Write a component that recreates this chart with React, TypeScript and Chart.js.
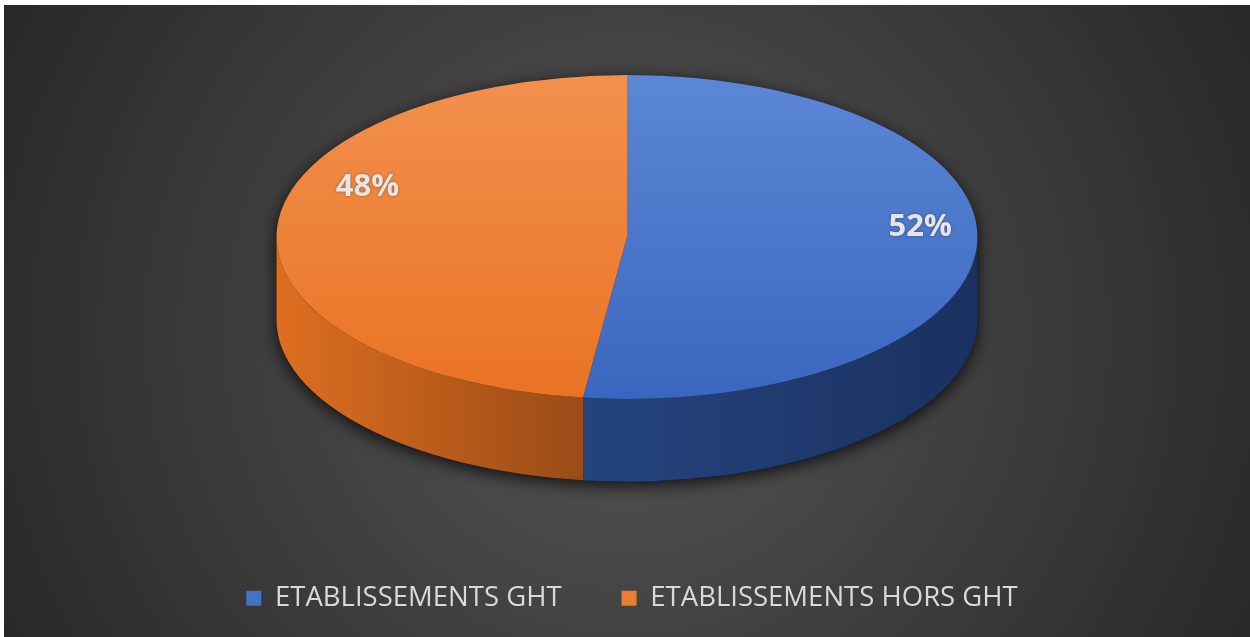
import React, { useEffect, useRef } from "react";
import { Chart, registerables } from "chart.js";
Chart.register(...registerables);

const categories = ["ETABLISSEMENTS GHT", "ETABLISSEMENTS HORS GHT"];
const values = [52, 48];

const topLight = ["#5C87D5", "#F2904D"];
const topDark = ["#3A66BF", "#EA7324"];
const sideLeft = ["#25447F", "#DE6E20"];
const sideRight = ["#1A3160", "#9A4B16"];
const legendColors = ["#4472C4", "#ED7D31"];

function geom(chart: any) {
  const W = chart.width;
  const H = chart.height;
  const rx = W * 0.2813;
  const ry = rx * 0.462;
  const depth = rx * 0.236;
  const cx = W / 2;
  const cy = H * 0.367;
  return { cx, cy, rx, ry, depth };
}

const pie3d = {
  id: "pie3d",
  beforeDraw(chart: any) {
    const { ctx, width: W, height: H } = chart;
    ctx.save();
    const g = ctx.createRadialGradient(W / 2, H * 0.52, 0, W / 2, H * 0.52, W * 0.62);
    g.addColorStop(0, "#565656");
    g.addColorStop(1, "#232323");
    ctx.fillStyle = g;
    ctx.fillRect(0, 0, W, H);
    ctx.restore();
  },
  beforeDatasetsDraw(chart: any) {
    const { ctx } = chart;
    const { cx, cy, rx, ry, depth } = geom(chart);
    const arcs = chart.getDatasetMeta(0).data;
    // soft shadow beneath the disc
    ctx.save();
    ctx.shadowColor = "rgba(0,0,0,0.8)";
    ctx.shadowBlur = 16;
    ctx.shadowOffsetY = 4;
    ctx.fillStyle = "#151515";
    ctx.beginPath();
    ctx.ellipse(cx, cy + depth, rx, ry, 0, 0, Math.PI, false);
    ctx.lineTo(cx - rx, cy);
    ctx.ellipse(cx, cy, rx, ry, 0, Math.PI, Math.PI * 2, false);
    ctx.closePath();
    ctx.fill();
    ctx.restore();
    // side walls
    arcs.forEach((a: any, i: number) => {
      const s = a.startAngle;
      const e = a.endAngle;
      [-2 * Math.PI, 0, 2 * Math.PI].forEach((k) => {
        const a1 = Math.max(s, k);
        const a2 = Math.min(e, k + Math.PI);
        if (a2 <= a1) return;
        const b1 = a1 - k;
        const b2 = a2 - k;
        const xl = cx + rx * Math.cos(b2);
        const xr = cx + rx * Math.cos(b1);
        const g = ctx.createLinearGradient(xl, 0, xr, 0);
        g.addColorStop(0, sideLeft[i]);
        g.addColorStop(1, sideRight[i]);
        ctx.save();
        ctx.fillStyle = g;
        ctx.beginPath();
        ctx.ellipse(cx, cy, rx, ry, 0, b1, b2, false);
        ctx.ellipse(cx, cy + depth, rx, ry, 0, b2, b1, true);
        ctx.closePath();
        ctx.fill();
        ctx.restore();
      });
    });
    // top face: let the library draw the arcs through a tilt transform
    const a0 = arcs[0];
    const R = a0.outerRadius;
    ctx.save();
    ctx.translate(cx, cy);
    ctx.scale(rx / R, ry / R);
    ctx.translate(-a0.x, -a0.y);
  },
  afterDatasetsDraw(chart: any) {
    const { ctx } = chart;
    ctx.restore();
    const { cx, cy, rx, ry } = geom(chart);
    const arcs = chart.getDatasetMeta(0).data;
    const total = values.reduce((p, v) => p + v, 0);
    ctx.save();
    ctx.font = "bold 31px 'Open Sans'";
    ctx.fillStyle = "#E6E6E6";
    ctx.textAlign = "center";
    ctx.textBaseline = "middle";
    ctx.shadowColor = "rgba(0,0,0,0.35)";
    ctx.shadowBlur = 3;
    arcs.forEach((a: any, i: number) => {
      const mid = (a.startAngle + a.endAngle) / 2;
      const c = Math.cos(mid);
      const x = cx + rx * 0.79 * c + rx * 0.048;
      const y = cy + ry * 0.79 * Math.sin(mid) - ry * (0.185 - 0.074 * c);
      ctx.fillText(Math.round((values[i] / total) * 100) + "%", x, y);
    });
    ctx.restore();
  },
};

export default function App() {
  const ref = useRef<HTMLCanvasElement | null>(null);
  useEffect(() => {
    if (!ref.current) return;
    const chart = new Chart(ref.current, {
      type: "pie",
      data: {
        labels: categories,
        datasets: [
          {
            data: values,
            borderWidth: 0,
            clip: false as any,
            backgroundColor: (c: any) => {
              const ch = c.chart;
              const area = ch.chartArea;
              const i = c.dataIndex;
              if (!area) return legendColors[i];
              const my = (area.top + area.bottom) / 2;
              const R = Math.min(area.right - area.left, area.bottom - area.top) / 2;
              const g = ch.ctx.createLinearGradient(0, my - R, 0, my + R);
              g.addColorStop(0, topLight[i]);
              g.addColorStop(1, topDark[i]);
              return g;
            },
          },
        ],
      },
      options: {
        animation: false,
        responsive: true,
        maintainAspectRatio: false,
        events: [],
        layout: { padding: { left: 10, bottom: 15 } },
        plugins: {
          tooltip: { enabled: false },
          legend: {
            position: "bottom",
            labels: {
              color: "#D9D9D9",
              font: { family: "'Open Sans'", size: 27.5 },
              boxWidth: 15,
              boxHeight: 15,
              padding: 60,
              generateLabels: () =>
                categories.map((t, i) => ({
                  text: t,
                  fillStyle: legendColors[i],
                  strokeStyle: legendColors[i],
                  lineWidth: 0,
                  hidden: false,
                  index: i,
                  fontColor: "#D9D9D9",
                })),
            },
          },
        },
      },
      plugins: [pie3d],
    });
    return () => chart.destroy();
  }, []);
  return (
    <div style={{ position: "absolute", left: 4, top: 5, width: 1246, height: 632 }}>
      <canvas ref={ref} />
    </div>
  );
}
